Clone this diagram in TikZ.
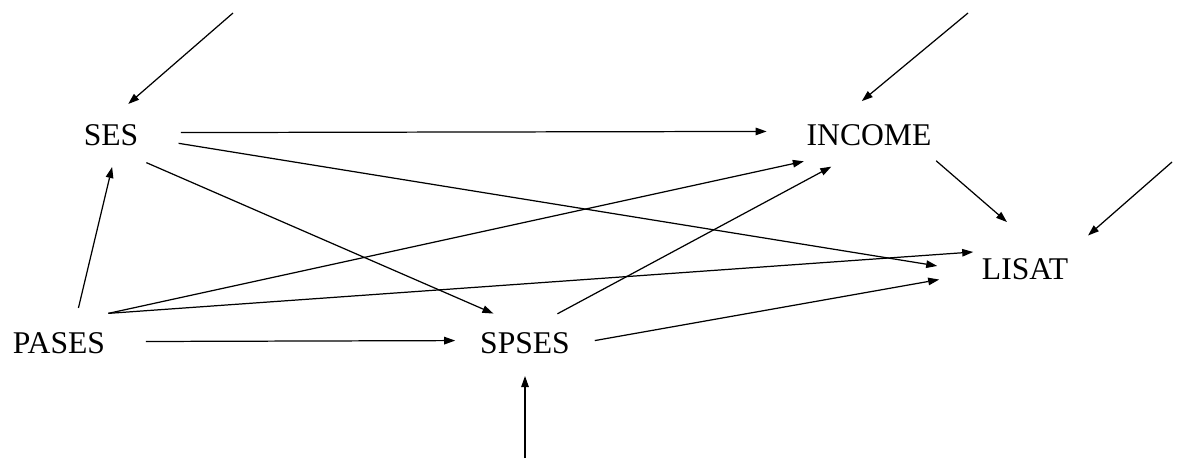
\documentclass[tikz,border=0pt]{standalone}
\usepackage{fontspec}
\setmainfont{Liberation Serif}
\usetikzlibrary{arrows.meta,shapes.geometric}
\tikzset{>={Triangle[length=2.2mm,width=1.5mm]}}
\tikzset{
  var/.style = {ellipse,inner sep=0pt,outer sep=0pt,
    font=\fontsize{18}{20}\selectfont}
}

\begin{document}
\begin{tikzpicture}[x=0.02cm,y=-0.02cm,line width=0.7pt]
  \useasboundingbox (0,0) rectangle (1179,458);
  % variables
  \node[var,minimum width=2.8cm,minimum height=1.28cm] (ses) at (111,135) {SES};
  \node[var,minimum width=4.12cm,minimum height=1.36cm] (income) at (869,135) {INCOME};
  \node[var,minimum width=3.52cm,minimum height=1.92cm] (lisat) at (1025,269) {LISAT};
  \node[var,minimum width=3.48cm,minimum height=1.44cm] (pases) at (59,343) {PASES};
  \node[var,minimum width=2.8cm,minimum height=1.32cm] (spses) at (525,343) {SPSES};
  % error terms
  \coordinate (eses) at (233,13);
  \coordinate (eincome) at (968,13);
  \coordinate (elisat) at (1172,162);
  \coordinate (espses) at (525,458);
  \draw[->] (eses) -- (ses.61);
  \draw[->] (eincome) -- (income.102);
  \draw[->] (elisat) -- (lisat.28);
  \draw[->] (espses) -- (spses.-90);
  % paths
  \draw[->] (ses.2) -- (income.178);
  \draw[->] (ses.-7) -- (lisat.178);
  \draw[->] (ses.-38) -- (spses.137);
  \draw[->] (pases.61) -- (ses.-88);
  \draw[->] (pases.31) -- (income.-158);
  \draw[->,shorten >=-0.64cm] (pases.31) -- (lisat.170);
  \draw[->] (pases.1) -- (spses.178);
  \draw[->] (spses.42) -- (income.-140);
  \draw[->] (spses.2) -- (lisat.-173);
  \draw[->] (income.-21) -- (lisat.111);
\end{tikzpicture}
\end{document}
